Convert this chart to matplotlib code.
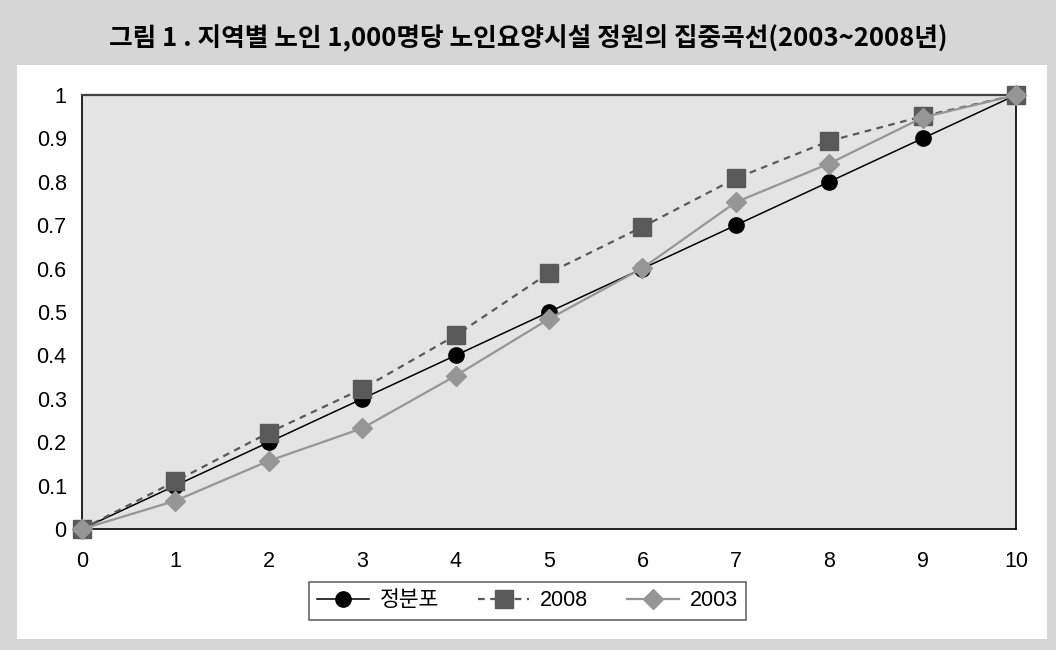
import matplotlib.pyplot as plt
from matplotlib.patches import Rectangle

plt.rcParams['font.family'] = ['Liberation Sans', 'Noto Sans CJK KR', 'DejaVu Sans']

x = [0, 1, 2, 3, 4, 5, 6, 7, 8, 9, 10]
uniform = [0, 0.1, 0.2, 0.3, 0.4, 0.5, 0.6, 0.7, 0.8, 0.9, 1.0]
y2008 = [0, 0.11, 0.222, 0.323, 0.446, 0.59, 0.696, 0.808, 0.894, 0.951, 1.0]
y2003 = [0, 0.065, 0.157, 0.232, 0.353, 0.484, 0.601, 0.753, 0.842, 0.948, 1.0]
labels = ['정분포', '2008', '2003']
title = '그림 1 . 지역별 노인 1,000명당 노인요양시설 정원의 집중곡선(2003~2008년)'

W, H = 1056, 650
fig = plt.figure(figsize=(W / 100, H / 100), dpi=100, facecolor='#d6d6d6')

# white panel behind the chart
fig.patches.append(Rectangle((17 / W, 11 / H), (1047 - 17) / W, (650 - 65 - 11) / H,
                             transform=fig.transFigure, facecolor='white',
                             edgecolor='none', zorder=-1))

fig.text(0.5, (650 - 37) / H, title, ha='center', va='center',
         fontsize=18.5, fontweight='bold', family=['Noto Sans CJK KR'])

ax = fig.add_axes([82 / W, (650 - 529) / H, (1016 - 82) / W, (529 - 95) / H])
ax.set_facecolor('#e4e4e4')

ax.plot(x, uniform, color='black', lw=1.1, marker='o', ms=11,
        label=labels[0], zorder=3, clip_on=False)
ax.plot(x, y2008, color='#595959', lw=1.6, ls=(0, (3, 2.5)), marker='s',
        ms=13.4, mfc='#595959', mec='#595959', label=labels[1], zorder=4,
        clip_on=False)
ax.plot(x, y2003, color='#969696', lw=1.6, marker='D', ms=10,
        mfc='#969696', mec='#969696', label=labels[2], zorder=5,
        clip_on=False)

ax.set_xlim(0, 10)
ax.set_ylim(0, 1)
ax.set_xticks(x)
ax.set_yticks([0, 0.1, 0.2, 0.3, 0.4, 0.5, 0.6, 0.7, 0.8, 0.9, 1.0])
ax.set_yticklabels(['0', '0.1', '0.2', '0.3', '0.4', '0.5', '0.6', '0.7',
                    '0.8', '0.9', '1'])
ax.tick_params(length=0, labelsize=15.5)
ax.tick_params(axis='x', pad=16)
ax.tick_params(axis='y', pad=11)
for side in ['left', 'bottom', 'right']:
    ax.spines[side].set_color('black')
    ax.spines[side].set_linewidth(1.2)
ax.spines['top'].set_color('#404040')
ax.spines['top'].set_linewidth(1.6)

leg = ax.legend(loc='center', bbox_to_anchor=(0.477, (650 - 601 - 121) / 434),
                ncol=3, frameon=True, fancybox=False, fontsize=15.5,
                handlelength=2.4, columnspacing=1.8, borderpad=0.4,
                handletextpad=0.5)
leg.get_frame().set_edgecolor('#404040')
leg.get_frame().set_linewidth(1.2)

fig.savefig('out.png', dpi=100, facecolor=fig.get_facecolor())
